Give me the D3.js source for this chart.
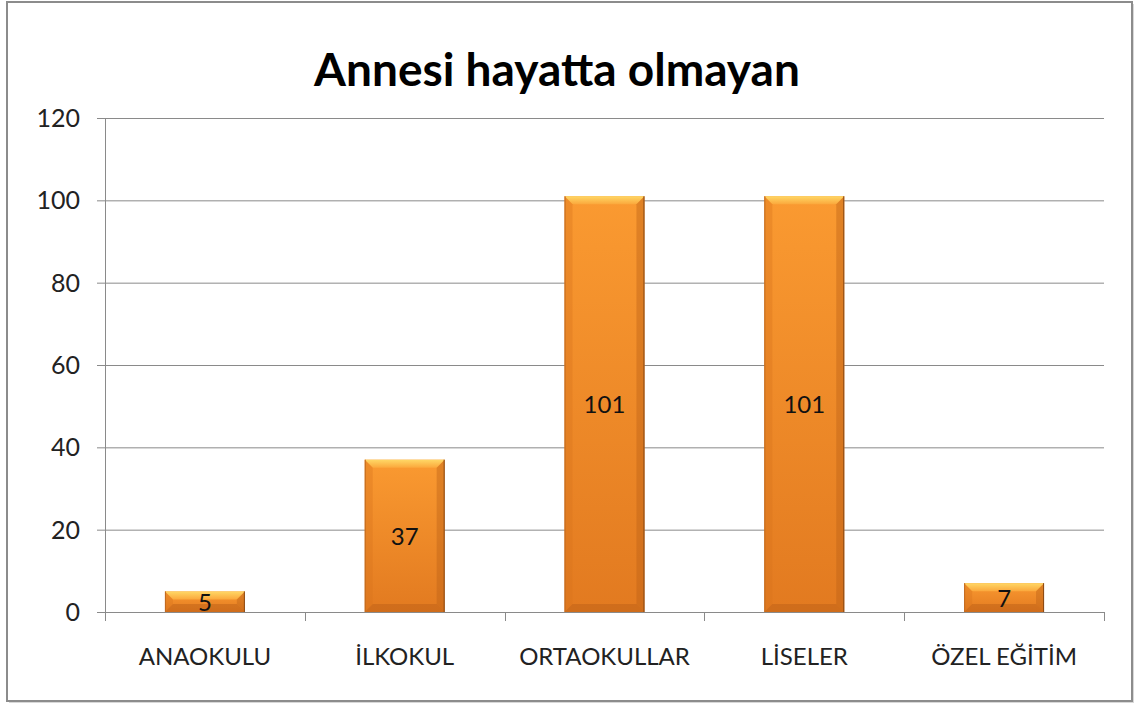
<!DOCTYPE html>
<html>
<head>
<meta charset="utf-8">
<script src="https://cdn.jsdelivr.net/npm/d3@7"></script>
<style>
body { margin:0; background:#fff; }
</style>
</head>
<body>
<svg id="canvas"></svg>
<script>
let width=1137, height=705

const title = "Annesi hayatta olmayan"
const categories = ["ANAOKULU", "İLKOKUL", "ORTAOKULLAR", "LİSELER", "ÖZEL EĞİTİM"]
const values = [5, 37, 101, 101, 7]
const yTicks = [0, 20, 40, 60, 80, 100, 120]

const font = "Lato, 'Open Sans', sans-serif"
let margin = {left:105, right:33, top:118, bottom:93}

let svg = d3.select('#canvas').attr("width",width).attr("height",height)

// frame with a soft shadow
svg.append("rect").attr("x",9).attr("y",4).attr("width",1125).attr("height",699).style("fill","#d8d8d8")
svg.append("rect").attr("x",7).attr("y",2).attr("width",1125).attr("height",699)
  .style("fill","#fff").style("stroke","#8c8c8c").style("stroke-width",2)

let x = d3.scaleBand().domain(categories)
  .range([margin.left, width-margin.right]).paddingInner(0.6).paddingOuter(0.3)
let y = d3.scaleLinear().domain([0,120]).range([height-margin.bottom, margin.top])

// gridlines
svg.selectAll(".grid").data(yTicks).enter().append("line")
  .attr("x1",margin.left-8).attr("x2",width-margin.right)
  .attr("y1",d=>y(d)+0.5).attr("y2",d=>y(d)+0.5)
  .style("stroke","#8a8a8a").style("stroke-width",1)

// y axis line
svg.append("line").attr("x1",margin.left+0.5).attr("x2",margin.left+0.5)
  .attr("y1",y(120)).attr("y2",y(0)).style("stroke","#8a8a8a")

// x axis ticks at category borders
let step = x.step()
let borders = d3.range(categories.length+1).map(i=>margin.left + i*step)
svg.selectAll(".xtick").data(borders).enter().append("line")
  .attr("x1",d=>Math.round(d)+0.5).attr("x2",d=>Math.round(d)+0.5)
  .attr("y1",y(0)).attr("y2",y(0)+9).style("stroke","#8a8a8a")

// y tick labels
svg.selectAll(".ylab").data(yTicks).enter().append("text")
  .attr("x",80).attr("y",d=>y(d)+9)
  .attr("text-anchor","end").style("font-family",font).style("font-size","25px").style("fill","#222")
  .text(d=>d)

// x labels
svg.selectAll(".xlab").data(categories).enter().append("text")
  .attr("x",d=>x(d)+x.bandwidth()/2).attr("y",665)
  .attr("text-anchor","middle").style("font-family",font).style("font-size","24px").style("fill","#222")
  .text(d=>d)

// gradients
let defs = svg.append("defs")
let g1 = defs.append("linearGradient").attr("id","face").attr("x1",0).attr("x2",0).attr("y1",0).attr("y2",1)
g1.append("stop").attr("offset","0%").attr("stop-color","#fa9a31")
g1.append("stop").attr("offset","100%").attr("stop-color","#e27a20")
let g2 = defs.append("linearGradient").attr("id","topb").attr("x1",0).attr("x2",0).attr("y1",0).attr("y2",1)
g2.append("stop").attr("offset","0%").attr("stop-color","#ffd866")
g2.append("stop").attr("offset","100%").attr("stop-color","#fba83c")

let bev = 8
let bars = svg.selectAll(".bar").data(values).enter().append("g")
  .attr("transform",(d,i)=>`translate(${x(categories[i])},${y(d)})`)

bars.each(function(d){
  let g = d3.select(this)
  let w = x.bandwidth(), h = y(0)-y(d)
  let b = Math.min(bev, h/2)
  g.append("rect").attr("width",w).attr("height",h).style("fill","url(#face)")
  // top bevel
  g.append("polygon").attr("points",`0,0 ${w},0 ${w-b},${b} ${b},${b}`).style("fill","url(#topb)")
  // left bevel
  g.append("polygon").attr("points",`0,0 ${b},${b} ${b},${h-b} 0,${h}`).style("fill","#d8721c").style("opacity",0.35)
  // right bevel
  g.append("polygon").attr("points",`${w},0 ${w},${h} ${w-b},${h-b} ${w-b},${b}`).style("fill","#b85e16").style("opacity",0.4)
  // bottom bevel
  g.append("polygon").attr("points",`0,${h} ${b},${h-b} ${w-b},${h-b} ${w},${h}`).style("fill","#b85e16").style("opacity",0.45)
  g.append("line").attr("x1",w-0.5).attr("x2",w-0.5).attr("y1",0).attr("y2",h).style("stroke","#8a4a14")
  g.append("line").attr("x1",0.5).attr("x2",0.5).attr("y1",0).attr("y2",h).style("stroke","#c06a20")
})

// data labels
svg.selectAll(".vlab").data(values).enter().append("text")
  .attr("x",(d,i)=>x(categories[i])+x.bandwidth()/2)
  .attr("y",d=>(y(d)+y(0))/2+9)
  .attr("text-anchor","middle").style("font-family",font).style("font-size","24px").style("fill","#111")
  .text(d=>d)

// title
svg.append("text").attr("x",557).attr("y",86).attr("text-anchor","middle")
  .style("font-family",font).style("font-weight","bold").style("font-size","46px").style("fill","#000")
  .text(title)
</script>
</body>
</html>
